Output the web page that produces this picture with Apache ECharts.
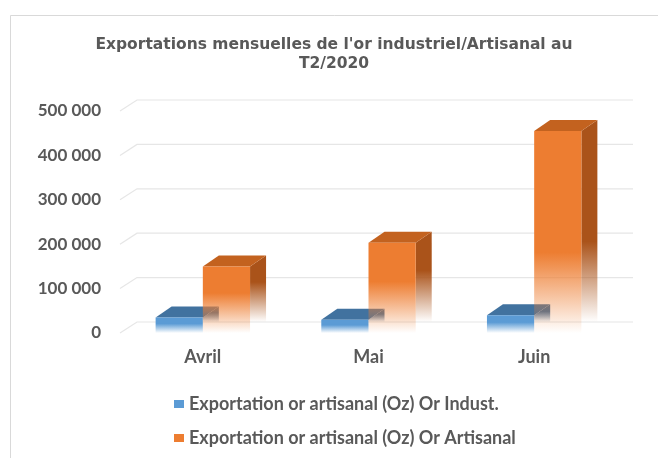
<!DOCTYPE html>
<html>
<head>
<meta charset="utf-8">
<script src="https://cdn.jsdelivr.net/npm/echarts@6/dist/echarts.min.js"></script>
<style>html,body{margin:0;padding:0;background:#fff;}#c{width:658px;height:458px;}</style>
</head>
<body>
<div id="c"></div>
<script>
const categories = ['Avril', 'Mai', 'Juin'];
const industValues = [35000, 30000, 40000];
const artisanalValues = [150000, 203000, 455000];
const yTicks = [0, 100000, 200000, 300000, 400000, 500000];
const seriesNames = ['Exportation or artisanal (Oz) Or Indust.', 'Exportation or artisanal (Oz) Or Artisanal'];

const DX = 16, DY = -11;
const BLUE = { front: [91, 155, 213], top: '#41729f', side: [62, 110, 154] };
const ORANGE = { front: [237, 125, 49], top: '#c3621f', side: [170, 83, 26] };

function rgba(c, a) { return 'rgba(' + c[0] + ',' + c[1] + ',' + c[2] + ',' + a + ')'; }
function fadeGrad(c, y0, y1, fs) {
  return new echarts.graphic.LinearGradient(0, y0, 0, y1, [
    { offset: 0, color: rgba(c, 1) },
    { offset: fs, color: rgba(c, 1) },
    { offset: fs + (1 - fs) * 0.55, color: rgba(c, 0.45) },
    { offset: 1, color: rgba(c, 0) }
  ], true);
}

function barRenderer(side, col) {
  return function (params, api) {
    const idx = api.value(0), val = api.value(1);
    const base = api.coord([idx, 0]);
    const top = api.coord([idx, val]);
    const band = api.size([1, 0])[0];
    const w = band * 0.285;
    const x0 = side < 0 ? base[0] - w : base[0];
    const x1 = x0 + w;
    const yb = base[1], yt = top[1];
    const h = yb - yt;
    let fade = Math.min(28 + 0.26 * h, h * 0.6);
    const fs = Math.max(0, (h - fade) / h);
    return {
      type: 'group',
      children: [
        { type: 'polygon', shape: { points: [[x1, yt], [x1 + DX, yt + DY], [x1 + DX, yb + DY], [x1, yb]] },
          style: { fill: fadeGrad(col.side, yt + DY, yb + DY, fs) } },
        { type: 'polygon', shape: { points: [[x0, yt], [x0 + DX, yt + DY], [x1 + DX, yt + DY], [x1, yt]] },
          style: { fill: col.top } },
        { type: 'rect', shape: { x: x0, y: yt, width: w, height: h },
          style: { fill: fadeGrad(col.front, yt, yb, fs) } }
      ]
    };
  };
}

const chart = echarts.init(document.getElementById('c'), null, { renderer: 'canvas' });
chart.setOption({
  animation: false,
  backgroundColor: '#fff',
  title: {
    text: "Exportations mensuelles de l'or industriel/Artisanal au\nT2/2020",
    left: 334, top: 35, textAlign: 'center', padding: 0,
    textStyle: { fontFamily: 'DejaVu Sans', fontWeight: 'bold', fontSize: 15.5, color: '#595959', lineHeight: 19.5 }
  },
  graphic: [{
    type: 'rect', shape: { x: 10.5, y: 15.5, width: 700, height: 500 },
    style: { fill: 'none', stroke: '#d9d9d9', lineWidth: 1 }, silent: true, z: -10
  }],
  legend: {
    orient: 'vertical', left: 174, top: 395, padding: 0, itemWidth: 10, itemHeight: 8, itemGap: 16,
    textStyle: { fontFamily: 'Lato', fontWeight: 'bold', fontSize: 18, color: '#595959' },
    data: [
      { name: seriesNames[0], icon: 'rect', itemStyle: { color: '#5b9bd5' } },
      { name: seriesNames[1], icon: 'rect', itemStyle: { color: '#ed7d31' } }
    ]
  },
  grid: { left: 120, right: 41, top: 111, bottom: 125 },
  xAxis: {
    type: 'category', data: categories,
    axisLine: { show: false }, axisTick: { show: false },
    axisLabel: { margin: 15, fontFamily: 'Lato', fontWeight: 'bold', fontSize: 18, color: '#595959' }
  },
  yAxis: {
    type: 'value', min: 0, max: 500000, interval: 100000,
    splitLine: { show: false }, axisLine: { show: false }, axisTick: { show: false },
    axisLabel: {
      margin: 19, fontFamily: 'Lato', fontWeight: 'bold', fontSize: 17, color: '#595959',
      formatter: v => String(v).replace(/\B(?=(\d{3})+(?!\d))/g, ' ')
    }
  },
  series: [
    {
      type: 'custom', name: 'grid3d', silent: true, z: 1,
      data: yTicks.map(v => [0, v]),
      renderItem: function (params, api) {
        const y = api.coord([0, api.value(1)])[1];
        const cs = params.coordSys;
        return {
          type: 'polyline',
          shape: { points: [[cs.x, y], [cs.x + DX + 1, y + DY], [cs.x + cs.width + DX, y + DY]] },
          style: { stroke: '#e6e6e6', lineWidth: 1.2, fill: 'none' }
        };
      }
    },
    {
      type: 'custom', name: seriesNames[0], z: 2,
      itemStyle: { color: '#5b9bd5' },
      data: industValues.map((v, i) => [i, v]),
      renderItem: barRenderer(-1, BLUE)
    },
    {
      type: 'custom', name: seriesNames[1], z: 3,
      itemStyle: { color: '#ed7d31' },
      data: artisanalValues.map((v, i) => [i, v]),
      renderItem: barRenderer(1, ORANGE)
    }
  ]
});
</script>
</body>
</html>
